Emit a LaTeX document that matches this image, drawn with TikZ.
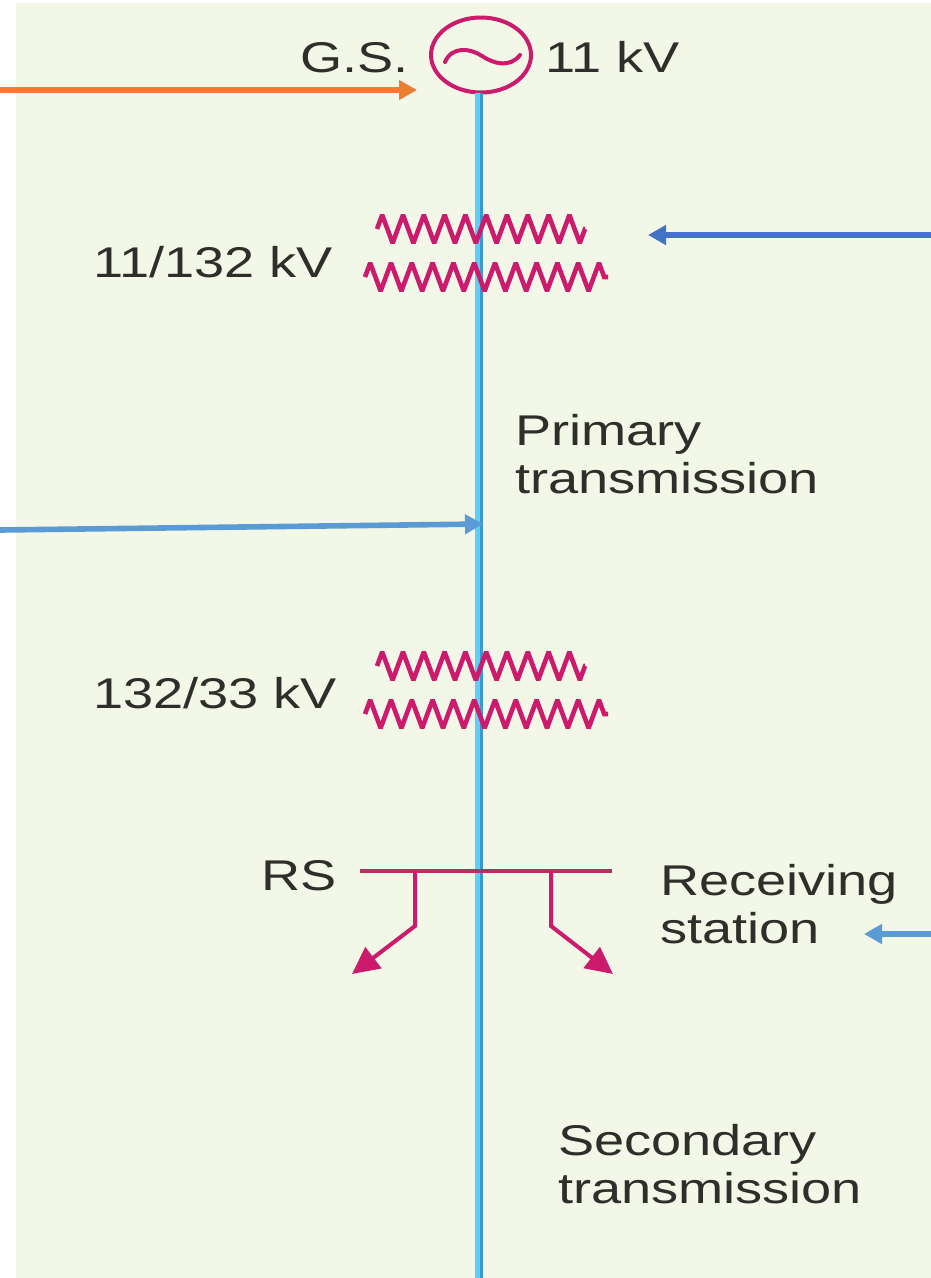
\documentclass[tikz,border=0pt]{standalone}
\usepackage{fontspec}
\newfontfamily\labfont[FakeStretch=1.26]{Liberation Sans}
\usetikzlibrary{arrows.meta,shapes.geometric,decorations.pathmorphing}
\definecolor{panel}{HTML}{F2F7E8}
\definecolor{ink}{HTML}{2E2E2A}
\definecolor{mag}{HTML}{CC1A6C}
\definecolor{busc}{HTML}{B8305F}
\definecolor{lineL}{HTML}{62CDF8}
\definecolor{lineD}{HTML}{3A9BCB}
\definecolor{orangeA}{HTML}{ED7D31}
\definecolor{blueA}{HTML}{4472C4}
\definecolor{skyA}{HTML}{5B9BD5}
\tikzset{
  x=1pt,y=-1pt,
  lab/.style={anchor=base west,inner sep=0pt,outer sep=0pt,text=ink,align=left,
    font=\labfont\fontsize{43}{48}\selectfont},
  coilline/.style={draw=mag,line width=4.6pt,line join=miter,miter limit=2,decorate,
    decoration={zigzag,amplitude=14pt,segment length=20.8pt,pre length=0pt,post length=0pt}},
  pointer/.style={line width=5.6pt,-{Triangle[length=18pt,width=19pt]}},
  feeder/.style={draw=mag,line width=4pt,-{Triangle[length=27pt,width=26pt,fill=mag]}},
}
\begin{document}
\begin{tikzpicture}
\useasboundingbox (0,0) rectangle (931,1278);
\fill[panel] (16,3) rectangle (931,1278);

% generator
\node[ellipse,draw=mag,line width=4pt,outer sep=0pt,minimum width=100pt,minimum height=75pt,inner sep=0pt] (gen) at (481,55) {};
\coordinate (busmain) at (481,1278);

% main line
\draw[lineL,line width=5pt] ([xshift=-3.5pt]gen.south) -- ([xshift=-3.5pt]busmain);
\draw[lineD,line width=3.5pt] ([xshift=0.5pt]gen.south) -- ([xshift=0.5pt]busmain);

% generator symbol
\coordinate (tildeA) at (445,62);
\coordinate (tildeB) at (520,55);
\draw[mag,line width=4pt,line cap=round] (tildeA) .. controls (452,46) and (470,48) .. (482,56)
  .. controls (494,64) and (510,68) .. (tildeB);

% transformers
\coordinate (t1a) at (377,229); \coordinate (t1b) at (585,229);
\coordinate (t1c) at (365,277); \coordinate (t1d) at (608,277);
\coordinate (t2a) at (377,666); \coordinate (t2b) at (585,666);
\coordinate (t2c) at (365,714); \coordinate (t2d) at (608,714);
\draw[coilline] (t1a) -- (t1b);
\draw[coilline] (t1c) -- (t1d);
\draw[coilline] (t2a) -- (t2b);
\draw[coilline] (t2c) -- (t2d);

% receiving station bus
\coordinate (busL) at (360,871); \coordinate (busR) at (612,871);
\coordinate (dropL) at (415,871); \coordinate (dropR) at (551,871);
\coordinate (kneeL) at (415,926); \coordinate (kneeR) at (551,926);
\coordinate (endL) at (352,974); \coordinate (endR) at (613,974);
\draw[busc,line width=3.6pt] (busL) -- (busR);
\draw[feeder] (dropL) -- (kneeL) -- (endL);
\draw[feeder] (dropR) -- (kneeR) -- (endR);

% labels
\node[lab] (gs) at (300,72) {G.S.};
\node[lab] (kv11) at (545,72) {11 kV};
\node[lab] (t1) at (93,277) {11/132 kV};
\node[lab] (prim) at (515,493) {Primary\\transmission};
\node[lab] (t2) at (93,708) {132/33 kV};
\node[lab] (rs) at (261,890) {RS};
\node[lab] (recv) at (660,943) {Receiving\\station};
\node[lab] (sec) at (558,1203) {Secondary\\transmission};

% annotation arrows
\coordinate (o1) at (0,90); \coordinate (o2) at (417,90);
\coordinate (b1) at (931,235); \coordinate (b2) at (648,235);
\coordinate (s1) at (0,530); \coordinate (s2) at (483,524);
\coordinate (r1) at (931,934); \coordinate (r2) at (864,934);
\draw[pointer,orangeA] (o1) -- (o2);
\draw[pointer,blueA] (b1) -- (b2);
\draw[pointer,skyA] (s1) -- (s2);
\draw[pointer,skyA] (r1) -- (r2);
\end{tikzpicture}
\end{document}
